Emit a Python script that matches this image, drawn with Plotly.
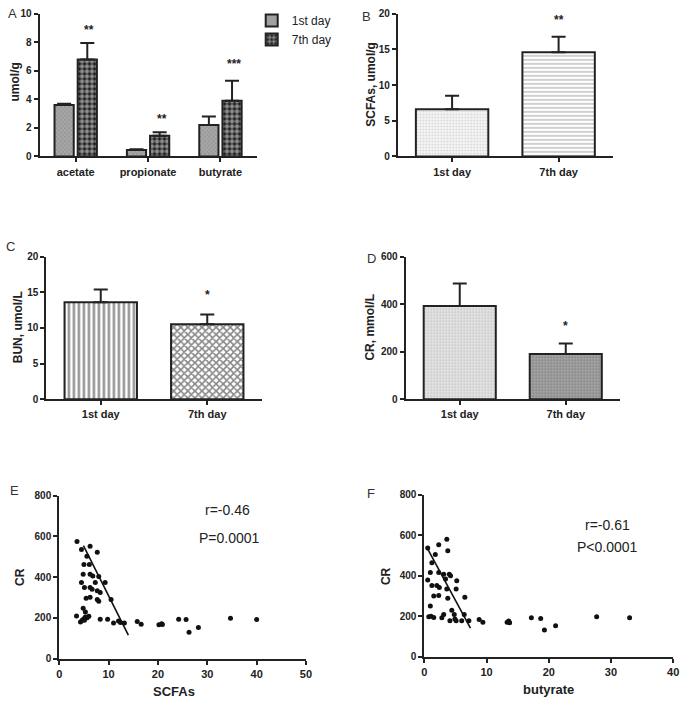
import plotly.graph_objects as go

W, H = 689, 706
FONT = "Liberation Sans, Arial, sans-serif"

# ---------------- data ----------------
# Panel A: SCFA components (umol/g)
a_categories = ["acetate", "propionate", "butyrate"]
a_day1 = [3.6, 0.45, 2.2]
a_day1_err = [0.1, 0.06, 0.6]
a_day7 = [6.8, 1.45, 3.9]
a_day7_err = [1.15, 0.25, 1.4]
a_stars = ["**", "**", "***"]
a_star_y = [8.9, 2.6, 6.5]

days = ["1st day", "7th day"]
# Panel B: total SCFAs
b_vals = [6.6, 14.6]
b_err = [1.9, 2.2]
# Panel C: BUN
c_vals = [13.6, 10.5]
c_err = [1.8, 1.4]
# Panel D: CR
d_vals = [392, 190]
d_err = [95, 44]

# Panel E: CR vs SCFAs
e_x = [3.6, 4.5, 6.25, 5.6, 7.7, 5.0, 6.1, 4.85, 6.25, 6.8, 8.0, 4.5, 7.3, 9.3, 5.1,
       6.25, 6.65, 7.7, 8.3, 5.45, 6.25, 7.7, 8.0, 10.5, 4.85, 3.5, 5.3, 4.3, 4.65, 5.0,
       5.3, 5.65, 6.0, 5.1, 8.3, 9.8, 11.0, 12.0, 12.4, 13.2, 15.8, 16.6, 20.2, 20.75,
       20.9, 24.2, 25.7, 26.3, 28.2, 34.7, 40.0]
e_y = [575, 535, 551, 502, 522, 462, 462, 414, 414, 406, 403, 374, 374, 374, 349,
       349, 341, 333, 325, 296, 301, 290, 282, 290, 248, 209, 229, 180, 188, 196,
       204, 201, 208, 188, 193, 193, 175, 185, 177, 175, 183, 169, 167, 172,
       168, 193, 192, 130, 153, 198, 192]
e_fit_x = [4.9, 14.0]
e_fit_y = [554, 116]

# Panel F: CR vs butyrate
f_x = [0.53, 2.3, 3.6, 3.76, 1.75, 1.2, 0.95, 2.3, 3.1, 4.0, 4.2, 3.4, 0.53, 5.2, 1.2,
       2.0, 2.4, 3.6, 5.1, 1.5, 2.3, 3.76, 6.5, 0.95, 4.4, 0.7, 1.06, 1.5, 2.8, 3.1,
       4.8, 6.4, 4.1, 4.9, 5.1, 6.0, 7.15, 8.8, 9.4, 13.3, 13.56, 13.7, 17.2, 18.7,
       19.3, 21.1, 27.7, 33.0]
f_y = [536, 552, 580, 523, 504, 464, 415, 415, 407, 407, 399, 383, 378, 375, 351,
       351, 342, 334, 334, 299, 302, 289, 294, 250, 229, 197, 200, 194, 192, 208,
       208, 208, 178, 186, 178, 178, 178, 184, 170, 170, 176, 168, 192, 189,
       132, 153, 197, 192]
f_fit_x = [0.3, 7.4]
f_fit_y = [544, 141]

# ---------------- layout helpers (page pixel -> paper fraction) ----------------
def px_(p):
    return p / W

def py_(p):
    return 1 - p / H

def dx(p0, p1):
    return [px_(p0), px_(p1)]

def dy(top, bottom):
    return [py_(bottom), py_(top)]

tickfont = dict(family=FONT, size=10, color="#222", weight="bold")
common = dict(showline=True, linewidth=2, linecolor="#222", ticks="outside",
              ticklen=4, tickwidth=2, tickcolor="#222", showgrid=False,
              zeroline=False, tickfont=tickfont, fixedrange=True)

fig = go.Figure()

err_style = dict(type="data", symmetric=False, color="#222", thickness=2, width=7)

# Panel A
fig.add_trace(go.Bar(
    x=[0, 1, 2], y=a_day1, name="1st day", xaxis="x", yaxis="y",
    marker=dict(color="#9c9c9c", line=dict(color="#222", width=2),
                pattern=dict(shape="x", fgcolor="#666", bgcolor="#a8a8a8",
                             size=3, solidity=0.3)),
    error_y=dict(array=a_day1_err, arrayminus=[0] * 3, **err_style),
))
fig.add_trace(go.Bar(
    x=[0, 1, 2], y=a_day7, name="7th day", xaxis="x", yaxis="y",
    marker=dict(color="#222", line=dict(color="#222", width=2),
                pattern=dict(shape=".", fgcolor="#ffffff", bgcolor="#1a1a1a",
                             size=5, solidity=0.6)),
    error_y=dict(array=a_day7_err, arrayminus=[0] * 3, **err_style),
))

# Panel B
fig.add_trace(go.Bar(
    x=[0, 1], y=b_vals, width=0.68, xaxis="x2", yaxis="y2", showlegend=False,
    marker=dict(color="#f2f2f2", line=dict(color="#222", width=2),
                pattern=dict(shape=[".", "-"], fgcolor=["#aaaaaa", "#777777"],
                             bgcolor=["#f4f4f4", "#ffffff"], size=[3, 4],
                             solidity=[0.25, 0.35])),
    error_y=dict(array=b_err, arrayminus=[0, 0], **err_style),
))

# Panel C
fig.add_trace(go.Bar(
    x=[0, 1], y=c_vals, width=0.68, xaxis="x3", yaxis="y3", showlegend=False,
    marker=dict(color="#ffffff", line=dict(color="#222", width=2),
                pattern=dict(shape=["|", "x"], fgcolor=["#111", "#111"],
                             bgcolor=["#ffffff", "#ffffff"], size=[5, 5],
                             solidity=[0.45, 0.55])),
    error_y=dict(array=c_err, arrayminus=[0, 0], **err_style),
))

# Panel D
fig.add_trace(go.Bar(
    x=[0, 1], y=d_vals, width=0.68, xaxis="x4", yaxis="y4", showlegend=False,
    marker=dict(color="#dddddd", line=dict(color="#222", width=2),
                pattern=dict(shape=[".", "."], fgcolor=["#9a9a9a", "#555555"],
                             bgcolor=["#e6e6e6", "#a5a5a5"], size=[3, 3],
                             solidity=[0.3, 0.3])),
    error_y=dict(array=d_err, arrayminus=[0, 0], **err_style),
))

# Panel E
fig.add_trace(go.Scatter(x=e_x, y=e_y, mode="markers", xaxis="x5", yaxis="y5",
                         showlegend=False, marker=dict(color="#111", size=5)))
fig.add_trace(go.Scatter(x=e_fit_x, y=e_fit_y, mode="lines", xaxis="x5", yaxis="y5",
                         showlegend=False, line=dict(color="#111", width=1.6)))
# Panel F
fig.add_trace(go.Scatter(x=f_x, y=f_y, mode="markers", xaxis="x6", yaxis="y6",
                         showlegend=False, marker=dict(color="#111", size=5)))
fig.add_trace(go.Scatter(x=f_fit_x, y=f_fit_y, mode="lines", xaxis="x6", yaxis="y6",
                         showlegend=False, line=dict(color="#111", width=1.6)))

xcat = dict(tickfont=dict(family=FONT, size=11, color="#222", weight="bold"))
xnum = dict(tickfont=dict(family=FONT, size=11, color="#222", weight="bold"))

fig.update_layout(
    width=W, height=H, margin=dict(l=0, r=0, t=0, b=0),
    paper_bgcolor="white", plot_bgcolor="white",
    barmode="group", bargap=0.36, bargroupgap=0.17,
    font=dict(family=FONT, color="#222"),
    legend=dict(x=px_(252), y=py_(0), xanchor="left", yanchor="top",
                font=dict(family=FONT, size=12, color="#222"),
                tracegroupgap=0, itemwidth=30, bgcolor="rgba(0,0,0,0)"),
    xaxis=dict(domain=dx(37, 257), anchor="y", range=[-0.5, 2.5],
               tickmode="array", tickvals=[0, 1, 2], ticktext=a_categories,
               **{**common, **xcat}),
    yaxis=dict(domain=dy(8, 153), anchor="x", range=[0, 10], dtick=2, **common),
    xaxis2=dict(domain=dx(400, 618), anchor="y2", range=[-0.51, 1.51],
                tickmode="array", tickvals=[0, 1], ticktext=days,
                **{**common, **xcat}),
    yaxis2=dict(domain=dy(8, 153), anchor="x2", range=[0, 20], dtick=5, **common),
    xaxis3=dict(domain=dx(44, 262), anchor="y3", range=[-0.51, 1.51],
                tickmode="array", tickvals=[0, 1], ticktext=days,
                **{**common, **xcat}),
    yaxis3=dict(domain=dy(255, 400), anchor="x3", range=[0, 20], dtick=5, **common),
    xaxis4=dict(domain=dx(408, 625), anchor="y4", range=[-0.51, 1.51],
                tickmode="array", tickvals=[0, 1], ticktext=days,
                **{**common, **xcat}),
    yaxis4=dict(domain=dy(255, 400), anchor="x4", range=[0, 600], dtick=200, **common),
    xaxis5=dict(domain=dx(57, 307), anchor="y5", range=[0, 50], dtick=10,
                **{**common, **xnum}),
    yaxis5=dict(domain=dy(498, 664), anchor="x5", range=[0, 800], dtick=200, **common),
    xaxis6=dict(domain=dx(427, 679), anchor="y6", range=[0, 40], dtick=10,
                **{**common, **xnum}),
    yaxis6=dict(domain=dy(497, 662), anchor="x6", range=[0, 800], dtick=200, **common),
)

ann = []
# panel letters
for letter, x0, y0 in [("A", 10, 8), ("B", 368, 11), ("C", 8, 245),
                       ("D", 373, 257), ("E", 12, 493), ("F", 373, 496)]:
    ann.append(dict(text=letter, x=px_(x0), y=py_(y0), xref="paper", yref="paper",
                    showarrow=False, xanchor="center", yanchor="middle",
                    font=dict(family=FONT, size=13, color="#333")))
# y-axis titles
for t, x0, y0 in [("umol/g", 12, 77), ("SCFAs, umol/g", 373, 80),
                  ("BUN, umol/L", 16, 327), ("CR, mmol/L", 372, 327),
                  ("CR", 17, 581), ("CR", 388, 580)]:
    ann.append(dict(text=t, x=px_(x0), y=py_(y0), xref="paper", yref="paper",
                    showarrow=False, textangle=-90, xanchor="center", yanchor="middle",
                    font=dict(family=FONT, size=12, color="#222", weight="bold")))
# x-axis titles for scatter panels
for t, x0, y0 in [("SCFAs", 173, 697), ("butyrate", 553, 695)]:
    ann.append(dict(text=t, x=px_(x0), y=py_(y0), xref="paper", yref="paper",
                    showarrow=False, xanchor="center", yanchor="middle",
                    font=dict(family=FONT, size=13, color="#222", weight="bold")))
# significance stars
for i, (s, yv) in enumerate(zip(a_stars, a_star_y)):
    ann.append(dict(text=s, x=i + 0.19, y=yv, xref="x", yref="y", showarrow=False,
                    font=dict(family=FONT, size=12, color="#222", weight="bold")))
ann.append(dict(text="**", x=1, y=19.2, xref="x2", yref="y2", showarrow=False,
                font=dict(family=FONT, size=12, color="#222", weight="bold")))
ann.append(dict(text="*", x=1, y=14.6, xref="x3", yref="y3", showarrow=False,
                font=dict(family=FONT, size=12, color="#222", weight="bold")))
ann.append(dict(text="*", x=1, y=310, xref="x4", yref="y4", showarrow=False,
                font=dict(family=FONT, size=12, color="#222", weight="bold")))
# correlation texts
for t, x0, y0 in [("r=-0.46", 227, 513), ("P=0.0001", 229, 541),
                  ("r=-0.61", 612, 528), ("P<0.0001", 612, 550)]:
    ann.append(dict(text=t, x=px_(x0), y=py_(y0), xref="paper", yref="paper",
                    showarrow=False, xanchor="center", yanchor="middle",
                    font=dict(family=FONT, size=14, color="#222")))

fig.update_layout(annotations=ann)
# remove the browser's default 8px body margin so the figure fills the window exactly
fig.write_html("out.html", config={"displayModeBar": False},
               post_script="document.body.style.margin='0';document.body.style.overflow='hidden';")
